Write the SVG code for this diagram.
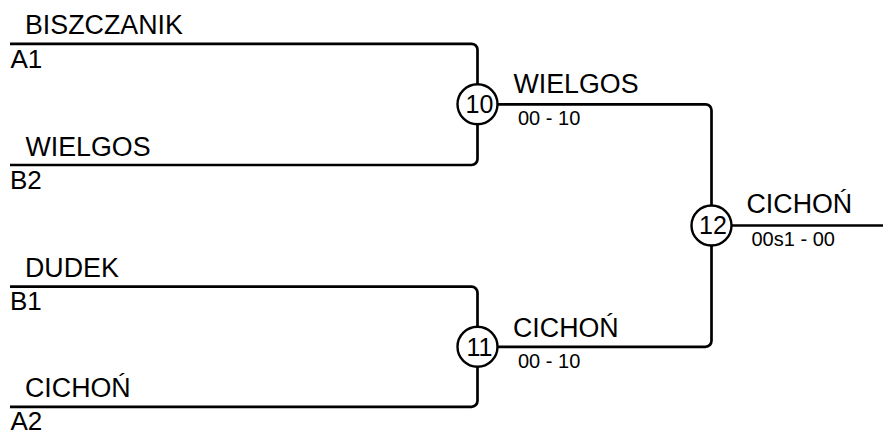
<svg xmlns="http://www.w3.org/2000/svg" width="883" height="430" viewBox="0 0 883 430">
  <style>
    .ln { fill: none; stroke: #000; stroke-width: 2.7; }
    .nd { fill: #fff; stroke: #000; stroke-width: 2.4; }
    .name { font-family: "Liberation Sans", Arial, sans-serif; font-size: 26.8px; fill: #000; }
    .seed { font-family: "Liberation Sans", Arial, sans-serif; font-size: 26px; fill: #000; }
    .score { font-family: "Liberation Sans", Arial, sans-serif; font-size: 20px; fill: #000; }
    .num { font-family: "Liberation Sans", Arial, sans-serif; font-size: 25px; fill: #000; text-anchor: middle; }
  </style>
  <rect width="883" height="430" fill="#fff"/>
  <g id="connectors">
    <path class="ln" d="M10,43.8 H471.5 A6,6 0 0 1 477.5,49.8 V159 A6,6 0 0 1 471.5,165 H10"/>
    <path class="ln" d="M10,286.7 H471.5 A6,6 0 0 1 477.5,292.7 V400.8 A6,6 0 0 1 471.5,406.8 H10"/>
    <path class="ln" d="M497.5,104.3 H705.5 A6,6 0 0 1 711.5,110.3 V205.5"/>
    <path class="ln" d="M497.5,346.8 H705.5 A6,6 0 0 0 711.5,340.8 V245.5"/>
    <path class="ln" d="M731.5,225.5 H883"/>
  </g>
  <g id="entry-biszczanik">
    <text class="name" x="25" y="34.3">BISZCZANIK</text>
    <text class="seed" x="10.5" y="67.7">A1</text>
  </g>
  <g id="entry-wielgos">
    <text class="name" x="25.5" y="156">WIELGOS</text>
    <text class="seed" x="10" y="188.5">B2</text>
  </g>
  <g id="entry-dudek">
    <text class="name" x="25" y="276.7">DUDEK</text>
    <text class="seed" x="10" y="310">B1</text>
  </g>
  <g id="entry-cichon">
    <text class="name" x="25" y="396.7">CICHOŃ</text>
    <text class="seed" x="10.5" y="429.5">A2</text>
  </g>
  <g id="match-10">
    <circle class="nd" cx="477.5" cy="104.3" r="20"/>
    <text class="num" x="479.5" y="113">10</text>
    <text class="name" x="513.5" y="93">WIELGOS</text>
    <text class="score" x="518" y="125">00 - 10</text>
  </g>
  <g id="match-11">
    <circle class="nd" cx="477.5" cy="346.8" r="20"/>
    <text class="num" x="479.5" y="355.5">11</text>
    <text class="name" x="513" y="336.7">CICHOŃ</text>
    <text class="score" x="518" y="368">00 - 10</text>
  </g>
  <g id="match-12">
    <circle class="nd" cx="711.5" cy="225.5" r="20"/>
    <text class="num" x="713" y="234.2">12</text>
    <text class="name" x="746.5" y="213">CICHOŃ</text>
    <text class="score" x="751.5" y="246">00s1 - 00</text>
  </g>
</svg>
